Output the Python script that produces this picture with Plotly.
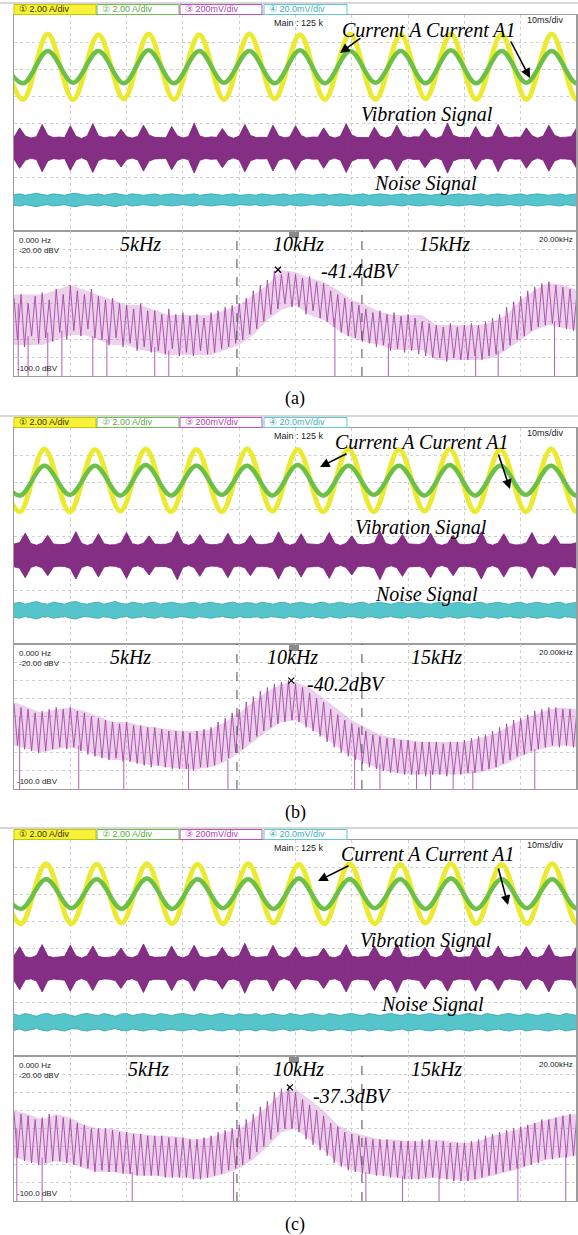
import plotly.graph_objects as go

W, H = 578, 1235

# ------------------------------------------------------------------ data
captions = ["(a)", "(b)", "(c)"]
peak_labels = ["-41.4dBV", "-40.2dBV", "-37.3dBV"]
ch_labels = ["\u2460 2.00 A/div", "\u2461 2.00 A/div", "\u2462 200mV/div", "\u2463 20.0mV/div"]
freq_labels = ["5kHz", "10kHz", "15kHz"]

# current waveforms: times (ms) of successive extrema, values in A
cur_t_a = [-2.9, 1.6, 6.0, 10.5, 15.0, 19.5, 23.9, 28.4, 32.9, 37.3, 41.8, 46.3, 50.8, 55.2,
           59.7, 64.2, 68.7, 73.1, 77.6, 82.1, 86.6, 91.0, 95.5, 100.0, 104.5]
cur_t_b = [-3.5, 1.0, 5.4, 9.9, 14.4, 18.9, 23.4, 27.9, 32.4, 36.9, 41.4, 45.9, 50.4, 54.9,
           59.4, 63.9, 68.4, 72.9, 77.4, 81.9, 86.4, 90.9, 95.4, 99.9, 104.4]
cur_t_c = [-3.3, 1.2, 5.7, 10.2, 14.7, 19.1, 23.6, 28.1, 32.6, 37.1, 41.6, 46.1, 50.6, 55.1,
           59.6, 64.1, 68.6, 73.1, 77.6, 82.1, 86.6, 91.1, 95.6, 100.1, 104.6]
yel_a = [2.4, -2.4, 2.45, -2.4, 2.4, -2.35, 2.45, -2.4, 2.4, -2.4, 2.45, -2.35, 2.4, -2.4,
         2.45, -2.4, 2.4, -2.35, 2.45, -2.4, 2.4, -2.4, 2.45, -2.4, 2.4]
grn_a = [1.2, -1.2, 1.2, -1.15, 1.2, -1.2, 1.25, -1.2, 1.2, -1.15, 1.2, -1.2, 1.25, -1.2,
         1.2, -1.15, 1.2, -1.2, 1.25, -1.2, 1.2, -1.15, 1.2, -1.2, 1.2]
yel_b = [2.3, -2.3, 2.35, -2.3, 2.3, -2.25, 2.35, -2.3, 2.3, -2.3, 2.35, -2.25, 2.3, -2.3,
         2.35, -2.3, 2.3, -2.25, 2.35, -2.3, 2.3, -2.3, 2.35, -2.3, 2.3]
grn_b = [1.1, -1.1, 1.1, -1.05, 1.1, -1.1, 1.15, -1.1, 1.1, -1.05, 1.1, -1.1, 1.15, -1.1,
         1.1, -1.05, 1.1, -1.1, 1.15, -1.1, 1.1, -1.05, 1.1, -1.1, 1.1]
yel_c = [2.2, -2.2, 2.25, -2.2, 2.2, -2.15, 2.25, -2.2, 2.2, -2.2, 2.25, -2.15, 2.2, -2.2,
         2.25, -2.2, 2.2, -2.15, 2.25, -2.2, 2.2, -2.2, 2.25, -2.2, 2.2]
grn_c = [1.1, -1.1, 1.1, -1.05, 1.1, -1.1, 1.15, -1.1, 1.1, -1.05, 1.1, -1.1, 1.15, -1.1,
         1.1, -1.05, 1.1, -1.1, 1.15, -1.1, 1.1, -1.05, 1.1, -1.1, 1.1]

# vibration envelope (mV), one value per ms
vib_a = [80, 150, 90, 75, 85, 175, 95, 78, 82,
         78, 165, 88, 72, 90, 180, 92, 76, 84,
         82, 140, 85, 74, 88, 170, 96, 80, 78,
         76, 160, 92, 75, 86, 185, 90, 77, 83,
         80, 145, 88, 73, 89, 175, 94, 79, 80,
         79, 170, 91, 76, 84, 165, 93, 75, 82,
         81, 150, 87, 74, 90, 180, 97, 78, 79,
         77, 155, 90, 75, 87, 170, 92, 76, 84,
         83, 145, 86, 73, 88, 185, 95, 80, 78,
         78, 160, 89, 76, 85, 175, 91, 77, 82,
         80, 150, 92, 74, 89, 170, 96, 79, 81,
         85, 155]
vib_b = [84, 95, 165, 88, 76, 92, 150, 85, 80,
         82, 96, 175, 90, 74, 88, 160, 86, 78,
         80, 94, 170, 87, 77, 91, 145, 84, 82,
         83, 97, 180, 89, 75, 90, 155, 88, 79,
         81, 93, 165, 86, 78, 92, 150, 85, 80,
         84, 95, 175, 91, 76, 89, 160, 87, 81,
         80, 96, 170, 88, 74, 90, 145, 84, 79,
         82, 94, 180, 90, 77, 91, 155, 86, 83,
         81, 97, 165, 87, 75, 88, 150, 85, 80,
         83, 95, 175, 89, 76, 92, 160, 88, 78,
         80, 93, 170, 86, 77, 90, 150, 84, 82,
         84, 96]
vib_c = [90, 160, 86, 78, 95, 175, 90, 80, 84,
         88, 170, 92, 76, 93, 165, 88, 79, 82,
         91, 150, 87, 78, 96, 180, 91, 81, 83,
         86, 165, 90, 77, 94, 170, 89, 78, 85,
         92, 155, 88, 79, 95, 185, 92, 80, 82,
         87, 170, 91, 76, 93, 160, 88, 79, 84,
         90, 150, 86, 78, 96, 175, 90, 81, 83,
         88, 165, 92, 77, 94, 180, 89, 78, 82,
         91, 155, 87, 79, 95, 170, 91, 80, 85,
         86, 170, 90, 76, 93, 165, 88, 79, 83,
         90, 160, 88, 78, 96, 175, 92, 81, 84,
         88, 165]

# noise envelope (mV), one value per ms
noise_a = [4.0, 4.5, 3.5, 4.0, 5.0, 4.0, 3.5, 4.5, 4.0, 3.5, 4.5, 5.0, 4.0, 3.5, 4.0, 4.5, 3.5, 4.0, 5.0, 4.0,
           3.5, 4.5, 4.0, 3.5, 4.0, 4.5, 3.5, 4.0, 4.5, 4.0, 3.5, 4.0, 4.5, 3.5, 4.0, 4.5, 4.0, 3.5, 4.0, 4.5,
           3.5, 4.0, 4.0, 3.5, 4.5, 4.0, 3.5, 4.0, 4.5, 3.5, 4.0, 4.5, 4.0, 3.5, 4.0, 4.5, 3.5, 4.0, 4.5, 4.0,
           3.5, 4.0, 4.5, 3.5, 4.0, 4.5, 4.0, 3.5, 4.0, 4.5, 3.5, 4.0, 4.5, 4.0, 3.5, 4.0, 4.5, 3.5, 4.0, 4.5,
           4.0, 3.5, 4.0, 4.5, 3.5, 4.0, 4.5, 4.0, 3.5, 4.0, 4.5, 3.5, 4.0, 4.5, 4.0, 3.5, 4.0, 4.5, 3.5, 4.0, 4.5]
noise_b = [5.0, 6.0, 4.5, 5.5, 6.5, 5.0, 4.5, 6.0, 5.5, 4.5, 6.0, 6.5, 5.0, 4.5, 5.5, 6.0, 4.5, 5.5, 6.5, 5.0,
           4.5, 6.0, 5.5, 4.5, 5.5, 6.0, 4.5, 5.5, 6.0, 5.0, 4.5, 5.5, 6.0, 4.5, 5.5, 6.0, 5.0, 4.5, 5.5, 6.0,
           4.5, 5.5, 5.5, 4.5, 6.0, 5.0, 4.5, 5.5, 6.0, 4.5, 5.5, 6.0, 5.0, 4.5, 5.5, 6.0, 4.5, 5.5, 6.0, 5.0,
           4.5, 5.5, 6.0, 4.5, 5.5, 6.0, 5.0, 4.5, 5.5, 6.0, 4.5, 5.5, 6.0, 5.0, 4.5, 5.5, 6.0, 4.5, 5.5, 6.0,
           5.0, 4.5, 5.5, 6.0, 4.5, 5.5, 6.0, 5.0, 4.5, 5.5, 6.0, 4.5, 5.5, 6.0, 5.0, 4.5, 5.5, 6.0, 4.5, 5.5, 6.0]
noise_c = [6.0, 5.0, 6.5, 5.5, 4.5, 6.0, 6.5, 5.0, 5.5, 6.5, 5.0, 4.5, 6.0, 6.5, 5.5, 5.0, 6.5, 5.5, 4.5, 6.0,
           6.5, 5.0, 5.5, 6.5, 5.5, 5.0, 6.5, 5.5, 5.0, 6.0, 6.5, 5.5, 5.0, 6.5, 5.5, 5.0, 6.0, 6.5, 5.5, 5.0,
           6.5, 5.5, 5.5, 6.5, 5.0, 6.0, 6.5, 5.5, 5.0, 6.5, 5.5, 5.0, 6.0, 6.5, 5.5, 5.0, 6.5, 5.5, 5.0, 6.0,
           6.5, 5.5, 5.0, 6.5, 5.5, 5.0, 6.0, 6.5, 5.5, 5.0, 6.5, 5.5, 5.0, 6.0, 6.5, 5.5, 5.0, 6.5, 5.5, 5.0,
           6.0, 6.5, 5.5, 5.0, 6.5, 5.5, 5.0, 6.0, 6.5, 5.5, 5.0, 6.5, 5.5, 5.0, 6.0, 6.5, 5.5, 5.0, 6.5, 5.5, 5.0]

# spectra (dBV): upper / lower edge on 0.5 kHz bins
spec_hi_a = [-55, -55, -55, -52.6, -49.8, -52.6, -55.3, -58.1, -60.8, -60.8, -63.6, -66.3, -66.3, -66.3,
             -66.3, -63.6, -60.8, -55.3, -49.8, -41.5, -42.6, -45.9, -48.1, -52.6, -58.1, -60.8, -64.7,
             -66.3, -66.3, -66.3, -71.9, -71.9, -71.9, -71.9, -70.2, -66.3, -58.1, -52.6, -48.7, -49.8, -52.6]
spec_lo_a = [-82.9, -82.9, -82.9, -80.1, -77.4, -77.4, -80.1, -82.9, -82.9, -85.7, -86.8, -88.4, -88.4,
             -88.4, -88.4, -85.7, -82.9, -77.4, -69.1, -63.6, -60.8, -66.3, -69.1, -74.6, -79.0, -81.2,
             -82.9, -85.7, -85.7, -85.7, -91.2, -91.2, -91.2, -91.2, -90.1, -85.7, -80.1, -74.6, -71.9,
             -73.5, -74.6]
spec_hi_b = [-52, -55, -58, -56, -55, -57, -60, -63, -63, -65, -66, -67, -68, -68, -67, -63, -58, -52, -46,
             -42, -41, -44, -50, -56, -62, -66, -70, -72, -73, -74, -74, -74, -74, -72, -70, -66, -62, -59,
             -56, -55, -56]
spec_lo_b = [-76, -78, -80, -78, -77, -79, -82, -84, -84, -86, -87, -88, -89, -89, -88, -85, -80, -74, -68,
             -63, -62, -66, -71, -77, -82, -86, -89, -91, -92, -92, -92, -92, -92, -91, -89, -86, -82, -79,
             -77, -76, -77]
spec_hi_c = [-50, -52, -55, -52, -54, -58, -60, -60, -62, -63, -64, -64, -65, -66, -65, -62, -60, -55, -48,
             -40, -38, -44, -50, -58, -62, -64, -66, -66, -67, -67, -66, -67, -68, -67, -64, -62, -60, -57,
             -55, -53, -52]
spec_lo_c = [-76, -78, -80, -78, -79, -82, -84, -84, -85, -86, -86, -87, -87, -88, -87, -85, -82, -77, -70,
             -62, -60, -66, -72, -79, -83, -85, -86, -87, -88, -88, -87, -88, -89, -88, -86, -84, -82, -79,
             -77, -76, -75]

# spectrum trace samples on 0.125 kHz bins (dBV), 8 per kHz
trace_a = [-57, -80, -55, -84, -60, -78, -56, -82,
           -54, -79, -58, -81, -52, -76, -55, -80,
           -50, -75, -53, -78, -55, -74, -52, -79,
           -56, -80, -58, -83, -57, -79, -60, -84,
           -61, -82, -63, -86, -60, -84, -64, -87,
           -64, -86, -66, -88, -63, -85, -66, -89,
           -65, -87, -67, -89, -66, -86, -68, -88,
           -65, -87, -64, -85, -62, -84, -61, -82,
           -60, -80, -57, -77, -53, -74, -50, -70,
           -47, -66, -42, -63, -44, -60, -43, -62,
           -44, -62, -46, -66, -45, -64, -48, -68,
           -49, -70, -53, -73, -55, -76, -57, -78,
           -59, -79, -61, -81, -63, -82, -65, -84,
           -64, -83, -66, -86, -65, -85, -67, -87,
           -66, -86, -68, -88, -70, -89, -71, -90,
           -72, -90, -73, -92, -71, -90, -73, -91,
           -72, -91, -71, -89, -72, -91, -70, -89,
           -68, -88, -66, -86, -62, -83, -59, -80,
           -56, -78, -53, -75, -51, -73, -49, -72,
           -48, -71, -50, -73, -51, -74, -52, -75,
           -54]
trace_b = [-53, -76, -55, -78, -56, -79, -58, -80,
           -57, -79, -56, -78, -55, -77, -56, -78,
           -55, -77, -57, -79, -58, -81, -60, -82,
           -61, -83, -62, -84, -63, -83, -64, -85,
           -63, -85, -65, -86, -65, -87, -66, -88,
           -66, -87, -67, -88, -68, -89, -68, -89,
           -68, -89, -69, -90, -68, -88, -67, -88,
           -66, -87, -63, -85, -61, -83, -58, -80,
           -56, -78, -52, -74, -49, -71, -46, -68,
           -44, -66, -42, -64, -41, -63, -40, -62,
           -42, -63, -44, -66, -47, -68, -50, -71,
           -52, -74, -56, -77, -59, -80, -62, -82,
           -64, -84, -66, -86, -68, -88, -70, -89,
           -71, -90, -72, -91, -72, -91, -73, -92,
           -73, -92, -74, -92, -74, -93, -74, -92,
           -74, -92, -75, -93, -74, -92, -74, -92,
           -73, -91, -72, -91, -71, -90, -70, -89,
           -68, -88, -66, -86, -64, -84, -62, -82,
           -61, -81, -59, -79, -57, -78, -56, -77,
           -55, -76, -55, -77, -56, -76, -56, -77,
           -57]
trace_c = [-51, -76, -52, -78, -53, -79, -55, -80,
           -54, -79, -52, -78, -53, -78, -54, -79,
           -55, -80, -57, -81, -58, -82, -60, -84,
           -60, -83, -60, -84, -61, -84, -62, -85,
           -62, -85, -63, -86, -63, -86, -64, -86,
           -64, -86, -64, -87, -65, -87, -65, -87,
           -65, -87, -66, -88, -66, -88, -65, -87,
           -64, -86, -62, -85, -61, -83, -60, -82,
           -58, -80, -55, -77, -52, -73, -48, -70,
           -45, -66, -40, -62, -38, -60, -37, -60,
           -40, -62, -44, -66, -47, -69, -50, -72,
           -53, -75, -57, -79, -59, -81, -62, -83,
           -63, -84, -64, -85, -65, -85, -66, -86,
           -66, -86, -66, -87, -67, -87, -67, -88,
           -67, -88, -67, -88, -66, -87, -66, -87,
           -67, -88, -67, -88, -68, -89, -68, -89,
           -68, -89, -67, -88, -66, -87, -64, -86,
           -63, -85, -62, -84, -61, -83, -60, -82,
           -59, -81, -58, -80, -57, -79, -55, -77,
           -55, -77, -54, -76, -53, -76, -52, -75,
           -52]

# long downward spikes (kHz, top dBV)
spike_f_a = [0.15, 0.5, 1.2, 1.7, 2.8, 3.3, 5.0, 5.5, 11.4, 13.3, 16.4, 17.2, 19.2]
spike_top_a = [-60, -78, -76, -75, -78, -80, -84, -86, -68, -82, -88, -86, -70]
spike_f_b = [0.2, 2.3, 3.9, 6.2, 7.6, 12.1, 13.0, 14.3, 14.8, 15.6, 16.3, 18.5]
spike_top_b = [-60, -76, -82, -86, -84, -80, -86, -90, -90, -90, -90, -78]
spike_f_c = [0.1, 1.0, 4.2, 7.8, 12.5, 13.8, 15.1, 17.9, 19.6]
spike_top_c = [-60, -76, -84, -84, -84, -86, -86, -80, -74]

# peak markers (kHz, dBV)
peak_f = [9.38, 9.85, 9.80]
peak_db = [-41.4, -40.2, -37.3]
# cursor lines (kHz)
cursor_f = [7.92, 12.36]

# ------------------------------------------------------------------ styling / geometry
CH_SCALE = [2.0, 2.0, 200.0, 20.0]          # units per division
POS = [[2.07, 2.07, -0.93, -2.85],           # channel position (div) per panel
       [2.05, 2.05, -0.72, -2.75],
       [2.0, 2.0, -0.75, -2.75]]
OFF = [0, 413, 825]
X0, X1 = 14, 577
YT0, YDIV, YB = 15, 231, 376

# per-panel label placement (x centre px, y px relative to panel top)
LBL = [dict(cur=(429, 30), vib=(427, 114), noi=(425, 183), f5=140, f10=298, f15=444, pk=360,
            arrA=(340, 53, 22, -16), arrA1=(530, 78, -20, -38)),
       dict(cur=(422, 29), vib=(421, 114), noi=(426, 181), f5=130, f10=292, f15=436, pk=346,
            arrA=(320, 54, 28, -14), arrA1=(510, 76, -12, -36)),
       dict(cur=(428, 29), vib=(426, 116), noi=(432, 179), f5=148, f10=298, f15=436, pk=352,
            arrA=(318, 56, 32, -16), arrA1=(508, 80, -10, -38))]

YEL = "#ecea2e"
GRN = "#6cc04a"
PUR = "#7a1c7a"
CYA = "#55c5cb"


def xf(px):
    return px / W


def yf(py):
    return 1 - py / H


def shift(vals, pos, scale):
    return [pos + v / scale for v in vals]


cur_t = [cur_t_a, cur_t_b, cur_t_c]
yel = [yel_a, yel_b, yel_c]
grn = [grn_a, grn_b, grn_c]
vib = [vib_a, vib_b, vib_c]
noise = [noise_a, noise_b, noise_c]
spec_hi = [spec_hi_a, spec_hi_b, spec_hi_c]
spec_lo = [spec_lo_a, spec_lo_b, spec_lo_c]
traces = [trace_a, trace_b, trace_c]
spike_f = [spike_f_a, spike_f_b, spike_f_c]
spike_top = [spike_top_a, spike_top_b, spike_top_c]
spec_f = [i * 0.5 for i in range(len(spec_hi_a))]
trace_f = [i * 0.125 for i in range(len(trace_a))]

fig = go.Figure()
layout = dict(width=W, height=H, margin=dict(l=0, r=0, t=0, b=0),
              paper_bgcolor="white", plot_bgcolor="white", showlegend=False)
annotations = []
shapes = []

serif = "Liberation Serif, Times New Roman, serif"
sans = "Liberation Sans, Arial, sans-serif"

for p in range(3):
    off = OFF[p]
    L = LBL[p]
    xt, yt = f"x{2*p+1}", f"y{2*p+1}"
    xs, ys = f"x{2*p+2}", f"y{2*p+2}"
    axcommon = dict(showgrid=True, gridcolor="#d0d0d0", griddash="dot", gridwidth=1,
                    zeroline=False, showticklabels=False, ticks="",
                    showline=True, mirror=True, linecolor="#9c9c9c", linewidth=1)
    kx_t = "xaxis" if p == 0 else f"xaxis{2*p+1}"
    ky_t = "yaxis" if p == 0 else f"yaxis{2*p+1}"
    layout[kx_t] = dict(domain=[xf(X0), xf(X1)], range=[0, 100], dtick=10, anchor=yt, **axcommon)
    layout[ky_t] = dict(domain=[yf(YDIV + off), yf(YT0 + off)], range=[-4, 4], dtick=1, anchor=xt, **axcommon)
    layout[f"xaxis{2*p+2}"] = dict(domain=[xf(X0), xf(X1)], range=[0, 20], dtick=2, anchor=ys, **axcommon)
    layout[f"yaxis{2*p+2}"] = dict(domain=[yf(YB + off), yf(YDIV + off)], range=[-100, -20], dtick=10,
                                   anchor=xs, **axcommon)

    # --- time domain
    t = cur_t[p]
    fig.add_trace(go.Scatter(x=t, y=shift(yel[p], POS[p][0], CH_SCALE[0]), mode="lines",
                             line=dict(color=YEL, width=5, shape="spline", smoothing=1.0),
                             xaxis=xt, yaxis=yt, hoverinfo="skip"))
    fig.add_trace(go.Scatter(x=t, y=shift(grn[p], POS[p][1], CH_SCALE[1]), mode="lines",
                             line=dict(color=GRN, width=4.5, shape="spline", smoothing=1.0),
                             xaxis=xt, yaxis=yt, hoverinfo="skip"))
    tv = [i * 1.0 for i in range(len(vib[p]))]
    fig.add_trace(go.Scatter(x=tv, y=shift([-v for v in vib[p]], POS[p][2], CH_SCALE[2]), mode="lines",
                             line=dict(color=PUR, width=0.8), xaxis=xt, yaxis=yt, hoverinfo="skip"))
    fig.add_trace(go.Scatter(x=tv, y=shift(vib[p], POS[p][2], CH_SCALE[2]), mode="lines", fill="tonexty",
                             fillcolor="rgba(122,28,122,0.92)",
                             line=dict(color=PUR, width=0.8), xaxis=xt, yaxis=yt, hoverinfo="skip"))
    tn = [i * 1.0 for i in range(len(noise[p]))]
    fig.add_trace(go.Scatter(x=tn, y=shift([-v for v in noise[p]], POS[p][3], CH_SCALE[3]), mode="lines",
                             line=dict(color="#2fa3aa", width=0.8), xaxis=xt, yaxis=yt, hoverinfo="skip"))
    fig.add_trace(go.Scatter(x=tn, y=shift(noise[p], POS[p][3], CH_SCALE[3]), mode="lines", fill="tonexty",
                             fillcolor=CYA, line=dict(color="#2fa3aa", width=0.8),
                             xaxis=xt, yaxis=yt, hoverinfo="skip"))

    # --- spectrum
    fig.add_trace(go.Scatter(x=spec_f, y=spec_lo[p], mode="lines", line=dict(color="rgba(0,0,0,0)", width=0),
                             xaxis=xs, yaxis=ys, hoverinfo="skip"))
    fig.add_trace(go.Scatter(x=spec_f, y=spec_hi[p], mode="lines", fill="tonexty",
                             fillcolor="rgba(200,120,200,0.35)", line=dict(color="rgba(0,0,0,0)", width=0),
                             xaxis=xs, yaxis=ys, hoverinfo="skip"))
    fig.add_trace(go.Scatter(x=trace_f, y=traces[p], mode="lines", line=dict(color="#9b3a9b", width=0.8),
                             xaxis=xs, yaxis=ys, hoverinfo="skip"))
    sx, sy = [], []
    for f, top in zip(spike_f[p], spike_top[p]):
        sx += [f, f, None]
        sy += [top, -100, None]
    fig.add_trace(go.Scatter(x=sx, y=sy, mode="lines", line=dict(color="#b060b0", width=1),
                             xaxis=xs, yaxis=ys, hoverinfo="skip"))
    fig.add_trace(go.Scatter(x=[peak_f[p]], y=[peak_db[p]], mode="markers",
                             marker=dict(symbol="x-thin", size=6, line=dict(color="black", width=1.3)),
                             xaxis=xs, yaxis=ys, hoverinfo="skip"))
    for cf in cursor_f:
        shapes.append(dict(type="line", xref=xs, yref=ys, x0=cf, x1=cf, y0=-100, y1=-20,
                           line=dict(color="#4a4a4a", width=1, dash="dash")))

    # --- frame extras
    shapes.append(dict(type="line", xref="paper", yref="paper", x0=xf(X1), x1=xf(X1),
                       y0=yf(YB + off), y1=yf(YT0 + off), line=dict(color="#9c9c9c", width=2)))
    shapes.append(dict(type="line", xref="paper", yref="paper", x0=xf(0), x1=xf(578),
                       y0=yf(3 + off), y1=yf(3 + off), line=dict(color="#b0b0b0", width=1)))
    # small trigger icon above the 10kHz label
    shapes.append(dict(type="rect", xref="paper", yref="paper", x0=xf(289), x1=xf(299),
                       y0=yf(238 + off), y1=yf(232 + off), fillcolor="#8a8a8a", line=dict(width=0)))
    # header boxes
    boxes = [(14, 96, "#f6f23a", "#c8c400", "#333300"),
             (97, 179, "white", GRN, "#5aa83c"),
             (180, 262, "white", "#c050c0", "#b040b0"),
             (264, 347, "white", "#60c8d0", "#40b0b8")]
    for (bx0, bx1, fc, lc, tc), lab in zip(boxes, ch_labels):
        shapes.append(dict(type="rect", xref="paper", yref="paper", x0=xf(bx0), x1=xf(bx1),
                           y0=yf(14.5 + off), y1=yf(4.5 + off), fillcolor=fc, line=dict(color=lc, width=1)))
        annotations.append(dict(xref="paper", yref="paper", x=xf(bx0 + 3), y=yf(9.5 + off), text=lab,
                                showarrow=False, xanchor="left", yanchor="middle",
                                font=dict(family=sans, size=9, color=tc)))
    annotations.append(dict(xref="paper", yref="paper", x=xf(272), y=yf(23 + off), text="Main : 125 k",
                            showarrow=False, xanchor="left", yanchor="middle",
                            font=dict(family=sans, size=9, color="#222")))
    annotations.append(dict(xref="paper", yref="paper", x=xf(566), y=yf(20 + off), text="10ms/div",
                            showarrow=False, xanchor="right", yanchor="middle",
                            font=dict(family=sans, size=9, color="#222")))
    # spectrum corner labels
    annotations.append(dict(xref="paper", yref="paper", x=xf(17), y=yf(234 + off),
                            text="0.000 Hz<br>-20.00 dBV", showarrow=False, xanchor="left", yanchor="top",
                            align="left", font=dict(family=sans, size=8, color="#222")))
    annotations.append(dict(xref="paper", yref="paper", x=xf(575), y=yf(233 + off), text="20.00kHz",
                            showarrow=False, xanchor="right", yanchor="top",
                            font=dict(family=sans, size=8, color="#222")))
    annotations.append(dict(xref="paper", yref="paper", x=xf(15), y=yf(375 + off), text="-100.0 dBV",
                            showarrow=False, xanchor="left", yanchor="bottom",
                            font=dict(family=sans, size=8, color="#222")))

    # italic signal labels
    def ilab(x, y, text, size=20):
        annotations.append(dict(xref="paper", yref="paper", x=xf(x), y=yf(y), text=f"<i>{text}</i>",
                                showarrow=False, xanchor="center", yanchor="middle",
                                font=dict(family=serif, size=size, color="black")))

    ilab(L["cur"][0], L["cur"][1] + off, "Current A Current A1")
    ilab(L["vib"][0], L["vib"][1] + off, "Vibration Signal")
    ilab(L["noi"][0], L["noi"][1] + off, "Noise Signal")
    ilab(L["f5"], 244 + off, freq_labels[0])
    ilab(L["f10"], 244 + off, freq_labels[1])
    ilab(L["f15"], 244 + off, freq_labels[2])
    ilab(L["pk"], 271 + off, peak_labels[p])
    # arrows
    for (axp, ayp, dx, dy) in (L["arrA"], L["arrA1"]):
        annotations.append(dict(xref="paper", yref="paper", x=xf(axp), y=yf(ayp + off), ax=dx, ay=dy,
                                text="", showarrow=True, arrowhead=2, arrowsize=1.2, arrowwidth=1.6,
                                arrowcolor="black"))
    annotations.append(dict(xref="paper", yref="paper", x=xf(295), y=yf(399 + off), text=captions[p],
                            showarrow=False, xanchor="center", yanchor="middle",
                            font=dict(family=serif, size=18, color="black")))

layout["annotations"] = annotations
layout["shapes"] = shapes
fig.update_layout(**layout)
fig.write_html("out.html", config={"displayModeBar": False},
               post_script="document.body.style.margin='0';document.body.style.overflow='hidden';")
